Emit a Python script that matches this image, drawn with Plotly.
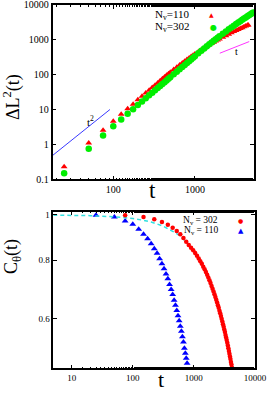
import math
import plotly.graph_objects as go

# ---------------- top panel data ----------------
t_red_top = [25, 50, 75, 100, 125, 150, 175, 200, 225, 250, 275, 300, 325, 350, 375, 400,
             425, 450, 475, 500, 550, 600, 650, 700, 750, 800, 850, 900, 950, 1000,
             1100, 1200, 1300, 1400, 1500, 1600, 1700, 1800, 1900, 2000,
             2200, 2400, 2600, 2800, 3000, 3200, 3400, 3600, 3800, 4000, 4200, 4400, 4500]
dl2_red = [0.23, 1.1, 2.55, 4.6, 7.3, 10.6, 14.1, 18.9, 23.9, 29.5, 35.7, 42.5, 49.9, 57.9, 66.4, 75.6,
           85.3, 95.4, 105.9, 116.8, 139.6, 163.8, 189.1, 215.5, 242.7, 270.8, 299.6, 329.1, 359.2, 389.9,
           452, 516, 581, 647, 713, 780, 846, 913, 980, 1046,
           1178, 1308, 1443, 1578, 1709, 1841, 1970, 2098, 2224, 2348, 2470, 2590, 2649]

t_green_top = [25, 50, 75, 100, 125, 150, 175, 200, 225, 250, 275, 300, 325, 350, 375, 400,
               425, 450, 475, 500, 550, 600, 650, 700, 750, 800, 850, 900, 950, 1000,
               1100, 1200, 1300, 1400, 1500, 1600, 1700, 1800, 1900, 2000,
               2200, 2400, 2600, 2800, 3000, 3200, 3400, 3600, 3800, 4000, 4200, 4400,
               4600, 4800, 5000, 5200]
dl2_green = [0.148, 0.75, 1.79, 3.3, 5.2, 7.6, 10.1, 13.5, 17.1, 21.1, 25.5, 30.4, 35.6, 41.3, 47.4, 54.0,
             60.9, 68.3, 76.1, 84.3, 102.0, 121.5, 142.5, 165.3, 189.8, 215.9, 243.7, 273.2, 304.4, 337.3,
             407.6, 483.4, 564.1, 649.9, 740.3, 835.2, 934.1, 1038, 1144, 1255,
             1486, 1731, 1987, 2254, 2531, 2817, 3112, 3414, 3723, 4040, 4362, 4691,
             5026, 5363, 5708, 6056]

guide_t2_t = [18, 91]
guide_t2_v = [0.48, 10.0]
guide_t_t = [2020, 4630]
guide_t_v = [411, 885]

top_yticks = [0.1, 1, 10, 100, 1000, 10000]
top_yticktext = ["0.1", "1", "10", "100", "1000", "10000"]
top_xticks = [100, 1000]
top_xticktext = ["100", "1000"]

# ---------------- bottom panel data ----------------
t_blue = [25, 50, 75, 100, 125, 150, 175, 200, 225, 250, 275, 300, 325, 350, 375, 400,
          425, 450, 475, 500, 525, 550, 575, 600, 625, 650, 675, 700, 725, 750, 775]
c_blue = [0.998, 0.990, 0.971, 0.955, 0.932, 0.909, 0.889, 0.868, 0.847, 0.828, 0.806, 0.786,
          0.767, 0.748, 0.730, 0.710, 0.693, 0.676, 0.657, 0.641, 0.625, 0.609, 0.594, 0.578,
          0.564, 0.549, 0.535, 0.519, 0.506, 0.494, 0.482]

t_red_bot = [75, 150, 225, 300, 375, 450, 525, 600, 675, 750, 825, 900, 975, 1050, 1125, 1200,
             1275, 1350, 1425, 1500, 1575, 1650, 1725, 1800, 1875, 1950, 2025, 2100, 2175, 2250,
             2325, 2400, 2475, 2550, 2625, 2700, 2775, 2850, 2925, 3000, 3075, 3150, 3225, 3300,
             3375, 3450, 3525, 3600, 3675, 3750, 3825, 3900, 3975, 4050, 4125, 4200]
c_red = [0.998, 0.990, 0.979, 0.966, 0.953, 0.939, 0.924, 0.909, 0.893, 0.876, 0.862, 0.851,
         0.840, 0.829, 0.818, 0.807, 0.796, 0.786, 0.775, 0.765, 0.755, 0.745, 0.735, 0.725,
         0.715, 0.705, 0.695, 0.686, 0.677, 0.668, 0.659, 0.650, 0.641, 0.633, 0.624, 0.616,
         0.608, 0.600, 0.592, 0.584, 0.577, 0.569, 0.562, 0.554, 0.547, 0.540, 0.533, 0.526,
         0.519, 0.512, 0.505, 0.498, 0.492, 0.485, 0.479, 0.472]

t_fit = [5, 10, 20, 50, 100, 150, 200, 300, 400, 500, 600, 700, 800, 1000, 1250, 1500, 1750,
         2000, 2250, 2500, 2750, 3000, 3250, 3500, 3750, 4000, 4250, 4500]
c_fit = [0.999, 0.998, 0.9965, 0.991, 0.9826, 0.974, 0.9655, 0.9487, 0.9322, 0.916, 0.9001,
         0.8844, 0.8691, 0.8391, 0.8031, 0.7686, 0.7356, 0.7041, 0.6739, 0.6449, 0.6172, 0.5908,
         0.5654, 0.5412, 0.5179, 0.4957, 0.4745, 0.4541]

bot_xticks = [10, 100, 1000, 10000]
bot_xticktext = ["10", "100", "1000", "10000"]
bot_yticks = [0.6, 0.8, 1.0]
bot_yticktext = ["0.6", "0.8", "1"]

SERIF = "Liberation Serif"
W, H = 269, 393

fig = go.Figure()

# top panel traces
fig.add_trace(go.Scatter(x=guide_t2_t, y=guide_t2_v, mode="lines",
                         line=dict(color="#3a3aff", width=1), xaxis="x", yaxis="y"))
fig.add_trace(go.Scatter(x=guide_t_t, y=guide_t_v, mode="lines",
                         line=dict(color="#ff33ff", width=1), xaxis="x", yaxis="y"))
fig.add_trace(go.Scatter(x=t_red_top, y=dl2_red, mode="markers",
                         marker=dict(symbol="triangle-up", size=6, color="#ff0000"),
                         xaxis="x", yaxis="y"))
fig.add_trace(go.Scatter(x=t_green_top, y=dl2_green, mode="markers",
                         marker=dict(symbol="circle", size=6.5, color="#00ee00"),
                         xaxis="x", yaxis="y"))

# bottom panel traces
fig.add_trace(go.Scatter(x=t_blue, y=c_blue, mode="markers",
                         marker=dict(symbol="triangle-up", size=6, color="#0000ff"),
                         xaxis="x2", yaxis="y2"))
fig.add_trace(go.Scatter(x=t_fit, y=c_fit, mode="lines",
                         line=dict(color="#33e0e0", width=1.5, dash="4px,3px"),
                         xaxis="x2", yaxis="y2"))
fig.add_trace(go.Scatter(x=t_red_bot, y=c_red, mode="markers",
                         marker=dict(symbol="circle", size=4.5, color="#ff0000"),
                         xaxis="x2", yaxis="y2"))

axis_common = dict(showline=True, linecolor="black", linewidth=1.5, mirror="allticks",
                   ticks="inside", ticklen=4, tickwidth=1, tickcolor="black",
                   showgrid=False, zeroline=False, automargin=False,
                   ticklabeloverflow="allow")

fig.update_layout(
    template="none",
    width=W, height=H, margin=dict(l=0, r=0, t=0, b=0, pad=0, autoexpand=False),
    paper_bgcolor="white", plot_bgcolor="white", showlegend=False,
    xaxis=dict(type="log", domain=[52.5 / W, 254 / W],
               range=[math.log10(18), math.log10(5300)], anchor="y",
               tickmode="array", tickvals=top_xticks, ticktext=top_xticktext,
               tickfont=dict(family=SERIF, size=10, color="black"),
               minor=dict(ticks="inside", ticklen=2, tickcolor="black", showgrid=False),
               **axis_common),
    yaxis=dict(type="log", domain=[1 - 179.3 / H, 1 - 4.8 / H],
               range=[-1.0005, 4.0015], anchor="x",
               tickmode="array", tickvals=top_yticks, ticktext=top_yticktext,
               tickfont=dict(family=SERIF, size=10, color="black"),
               **axis_common),
    xaxis2=dict(type="log", domain=[53.3 / W, 255 / W],
                range=[math.log10(5), 4.001], anchor="y2",
                tickmode="array", tickvals=bot_xticks, ticktext=bot_xticktext,
                tickfont=dict(family=SERIF, size=9, color="black"),
                minor=dict(ticks="inside", ticklen=2, tickcolor="black", showgrid=False),
                **axis_common),
    yaxis2=dict(type="log", domain=[1 - 368.3 / H, 1 - 211.7 / H],
                range=[math.log10(0.47), math.log10(1.016)], anchor="x2",
                tickmode="array", tickvals=bot_yticks, ticktext=bot_yticktext,
                tickfont=dict(family=SERIF, size=9, color="black"),
                **axis_common),
)

def px(x):
    return x / W

def py(y):
    return 1 - y / H

annos = [
    dict(text="ΔL<sup>2</sup>(t)", x=px(12), y=py(97), textangle=-90, font=dict(size=18)),
    dict(text="t", x=px(152), y=py(190), font=dict(size=23)),
    dict(text="C<sub>θ</sub>(t)", x=px(12), y=py(257), textangle=-90, font=dict(size=18)),
    dict(text="t", x=px(161), y=py(379), font=dict(size=22)),
    dict(text="t<sup>2</sup>", x=px(90), y=py(121), font=dict(size=11)),
    dict(text="t", x=px(236), y=py(51.5), font=dict(size=10)),
    dict(text="N<sub>v</sub>=110", x=px(192), y=py(15), xanchor="right", font=dict(size=11)),
    dict(text="N<sub>v</sub>=302", x=px(192), y=py(27), xanchor="right", font=dict(size=11)),
    dict(text="N<sub>v</sub> = 302", x=px(220), y=py(220), xanchor="right", font=dict(size=9.5)),
    dict(text="N<sub>v</sub> = 110", x=px(220), y=py(230.5), xanchor="right", font=dict(size=9.5)),
    dict(text="▲", x=px(211.7), y=py(15), font=dict(family="DejaVu Sans", size=6, color="#ff0000")),
    dict(text="●", x=px(213), y=py(27), font=dict(family="DejaVu Sans", size=8, color="#00ee00")),
    dict(text="●", x=px(240), y=py(220), font=dict(family="DejaVu Sans", size=6, color="#ff0000")),
    dict(text="▲", x=px(240.7), y=py(231), font=dict(family="DejaVu Sans", size=7, color="#0000ff")),
]
for a in annos:
    f = dict(family=SERIF, color="black")
    f.update(a.pop("font"))
    fig.add_annotation(xref="paper", yref="paper", showarrow=False,
                       xanchor=a.pop("xanchor", "center"), yanchor="middle",
                       font=f, **a)

fig.write_html("out.html", config={"displayModeBar": False},
               post_script="document.body.style.margin='0';")
